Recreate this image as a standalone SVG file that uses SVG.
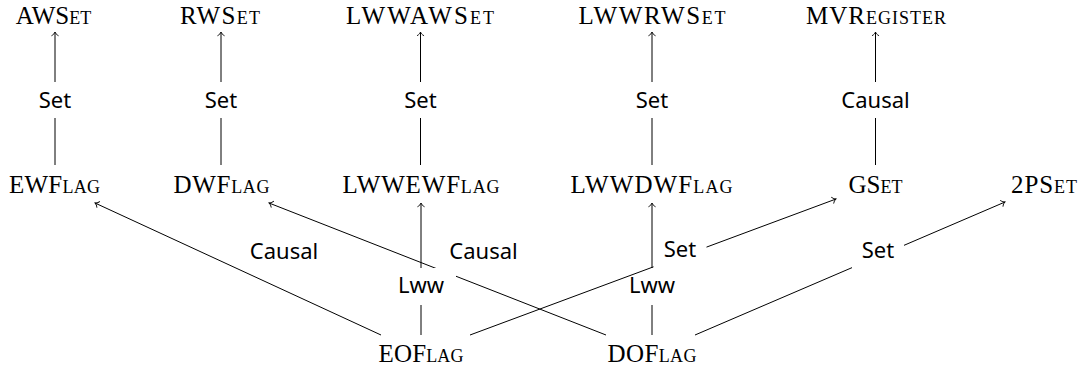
<svg xmlns="http://www.w3.org/2000/svg" width="1088" height="368" viewBox="0 0 1088 368">
<defs>
<style>
.node{font-family:"Liberation Serif","Times New Roman",serif;font-size:25px;font-variant:small-caps;text-anchor:middle;fill:#000}
.lbl{font-family:"Noto Sans","Open Sans",sans-serif;font-size:22px;text-anchor:middle;fill:#000}
.edge{stroke:#000;stroke-width:1;fill:none}
.arr{marker-end:url(#to)}
.bg{fill:#fff;stroke:none}
</style>
<marker id="to" viewBox="-5 -4 6 8" refX="0" refY="0" markerWidth="6" markerHeight="8" markerUnits="userSpaceOnUse" orient="auto">
<path d="M-3.6,-3.2 C-2.6,-1.3 -0.9,-0.35 0,0 C-0.9,0.35 -2.6,1.3 -3.6,3.2" fill="none" stroke="#000" stroke-width="0.9" stroke-linecap="round"/>
</marker>
</defs>
<rect width="1088" height="368" fill="#fff"/>

<g id="connectors">
  <g id="e-ewflag-awset"><line class="edge arr" x1="55" y1="165" x2="55" y2="32"/><rect class="bg" x="29" y="82" width="52" height="36"/><text class="lbl" x="55" y="108">Set</text></g>
  <g id="e-dwflag-rwset"><line class="edge arr" x1="221" y1="165" x2="221" y2="32"/><rect class="bg" x="195" y="82" width="52" height="36"/><text class="lbl" x="221" y="108">Set</text></g>
  <g id="e-lwwewflag-lwwawset"><line class="edge arr" x1="420.5" y1="165" x2="420.5" y2="32"/><rect class="bg" x="394" y="82" width="52" height="36"/><text class="lbl" x="420.5" y="108">Set</text></g>
  <g id="e-lwwdwflag-lwwrwset"><line class="edge arr" x1="652" y1="165" x2="652" y2="32"/><rect class="bg" x="626" y="82" width="52" height="36"/><text class="lbl" x="652" y="108">Set</text></g>
  <g id="e-gset-mvregister"><line class="edge arr" x1="875.5" y1="165" x2="875.5" y2="32"/><rect class="bg" x="830" y="82" width="91" height="36"/><text class="lbl" x="875.5" y="108">Causal</text></g>

  <g id="e-eoflag-ewflag"><line class="edge arr" x1="381" y1="335" x2="95" y2="203"/><text class="lbl" x="284" y="259">Causal</text></g>
  <g id="e-doflag-dwflag"><line class="edge arr" x1="606" y1="335" x2="269" y2="203"/><text class="lbl" x="483.5" y="259">Causal</text></g>
  <g id="e-eoflag-lwwewflag"><line class="edge arr" x1="421" y1="335" x2="421" y2="203"/><rect class="bg" x="387" y="268" width="69" height="37"/><text class="lbl" x="421" y="293">Lww</text></g>
  <g id="e-doflag-lwwdwflag"><line class="edge arr" x1="652" y1="335" x2="652" y2="203"/><rect class="bg" x="618" y="268" width="69" height="37"/><text class="lbl" x="652" y="293">Lww</text></g>
  <g id="e-eoflag-gset"><line class="edge arr" x1="470" y1="335" x2="836" y2="199"/><rect class="bg" x="653.5" y="229" width="53" height="39"/><text class="lbl" x="680" y="257">Set</text></g>
  <g id="e-doflag-2pset"><line class="edge arr" x1="695" y1="335" x2="1005" y2="202"/><rect class="bg" x="852" y="232" width="52" height="38"/><text class="lbl" x="878" y="258">Set</text></g>
</g>

<g id="n-awset"><text class="node" x="53.5" y="23.5">AWSet</text></g>
<g id="n-rwset"><text class="node" x="220" y="23.5" textLength="80" lengthAdjust="spacing">RWSet</text></g>
<g id="n-lwwawset"><text class="node" x="420" y="23.5" textLength="148" lengthAdjust="spacing">LWWAWSet</text></g>
<g id="n-lwwrwset"><text class="node" x="652" y="23.5" textLength="147" lengthAdjust="spacing">LWWRWSet</text></g>
<g id="n-mvregister"><text class="node" x="876" y="23.5" textLength="140" lengthAdjust="spacing">MVRegister</text></g>

<g id="n-ewflag"><text class="node" x="54.5" y="193" textLength="91" lengthAdjust="spacing">EWFlag</text></g>
<g id="n-dwflag"><text class="node" x="221.5" y="193" textLength="96" lengthAdjust="spacing">DWFlag</text></g>
<g id="n-lwwewflag"><text class="node" x="421" y="193" textLength="157" lengthAdjust="spacing">LWWEWFlag</text></g>
<g id="n-lwwdwflag"><text class="node" x="651.5" y="193" textLength="162" lengthAdjust="spacing">LWWDWFlag</text></g>
<g id="n-gset"><text class="node" x="875.5" y="193">GSet</text></g>
<g id="n-2pset"><text class="node" x="1044" y="193" textLength="66" lengthAdjust="spacing">2PSet</text></g>

<g id="n-eoflag"><text class="node" x="421" y="362" textLength="85" lengthAdjust="spacing">EOFlag</text></g>
<g id="n-doflag"><text class="node" x="652" y="362" textLength="89" lengthAdjust="spacing">DOFlag</text></g>
</svg>
